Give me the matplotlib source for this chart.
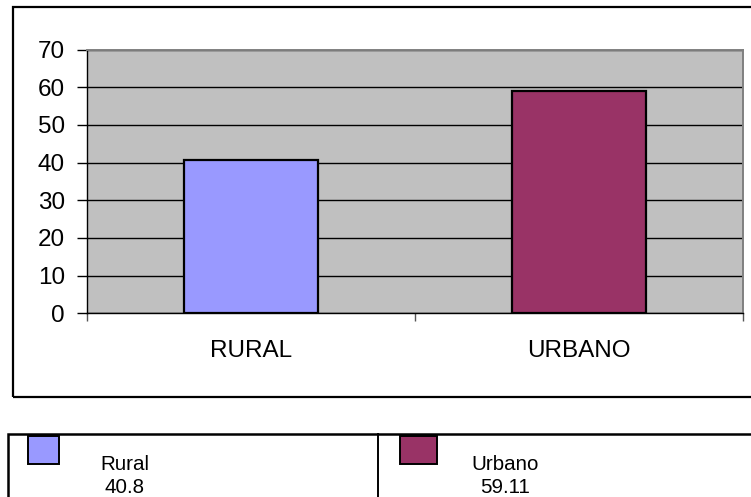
import matplotlib

matplotlib.use("Agg")
import matplotlib.pyplot as plt
from matplotlib.patches import Rectangle
from matplotlib.lines import Line2D

plt.rcParams["font.family"] = ["Liberation Sans", "DejaVu Sans"]

categories = ["RURAL", "URBANO"]
legend_names = ["Rural", "Urbano"]
values = [40.8, 59.11]
bar_colors = ["#9999FF", "#993366"]
y_ticks = [0, 10, 20, 30, 40, 50, 60, 70]

W, H = 751, 497


def fx(px):
    return px / W


def fy(py):
    return 1 - py / H


fig = plt.figure(figsize=(W / 100, H / 100), dpi=100)
fig.patch.set_facecolor("white")

# outer chart frame (runs off the right edge like the original)
fig.add_artist(Rectangle((fx(13), fy(397)), fx(760) - fx(13), fy(7) - fy(397),
                         transform=fig.transFigure, fill=False, edgecolor="black", lw=1.6))

# plot area
left, right, top, bottom = 87, 743, 49.5, 313.3
ax = fig.add_axes([fx(left), fy(bottom), fx(right) - fx(left), fy(top) - fy(bottom)])
ax.set_facecolor("#C0C0C0")

x = list(range(len(categories)))
ax.bar(x, values, width=0.41, color=bar_colors, edgecolor="black", linewidth=1.6, zorder=3)

ax.set_xlim(-0.5, len(categories) - 0.5)
ax.set_ylim(0, 70)
ax.set_yticks(y_ticks)
ax.yaxis.grid(True, color="black", lw=1.0, zorder=1)
ax.set_axisbelow(True)

ax.set_xticks(x)
ax.set_xticklabels(categories, fontsize=17.5)
ax.set_xticks([i - 0.5 for i in range(len(categories) + 1)], minor=True)
ax.tick_params(axis="x", which="major", length=0, pad=19)
ax.tick_params(axis="x", which="minor", length=6, width=1.0, color="#555555")
ax.tick_params(axis="y", length=7, width=1.0, pad=9, labelsize=17.5)

for side in ("top", "right"):
    ax.spines[side].set_color("#808080")
    ax.spines[side].set_linewidth(1.4)
for side in ("left", "bottom"):
    ax.spines[side].set_color("black")
    ax.spines[side].set_linewidth(1.0)

# legend table below the chart
leg_left, leg_top, leg_div = 8.3, 433.5, 377.7
fig.add_artist(Rectangle((fx(leg_left), fy(510)), fx(760) - fx(leg_left), fy(leg_top) - fy(510),
                         transform=fig.transFigure, fill=False, edgecolor="black", lw=1.8))
fig.add_artist(Line2D([fx(leg_div), fx(leg_div)], [fy(leg_top), fy(510)],
                      transform=fig.transFigure, color="black", lw=1.4))

swatch_boxes = [(28.3, 59.3), (400, 436.7)]
text_centers = [124.5, 505]
for name, val, col, (sx0, sx1), tx in zip(legend_names, values, bar_colors, swatch_boxes, text_centers):
    fig.add_artist(Rectangle((fx(sx0), fy(464)), fx(sx1) - fx(sx0), fy(436) - fy(464),
                             transform=fig.transFigure, facecolor=col, edgecolor="black", lw=1.4))
    fig.text(fx(tx), fy(470), name, ha="center", va="baseline", fontsize=14.8)
    fig.text(fx(tx), fy(493), f"{val:g}", ha="center", va="baseline", fontsize=14.8)

fig.savefig("out.png", dpi=100)
